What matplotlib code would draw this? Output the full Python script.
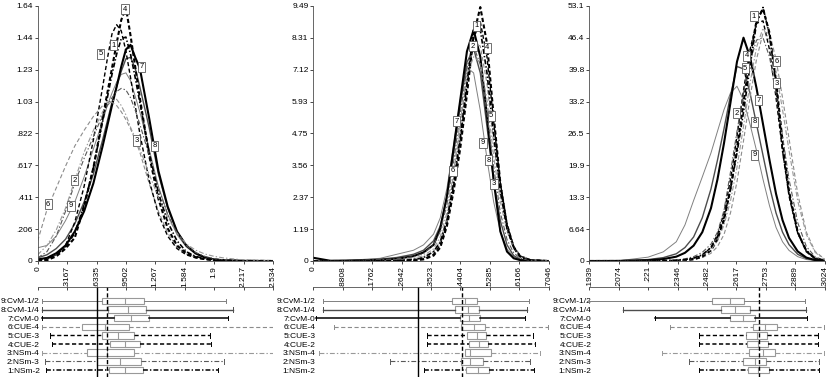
import matplotlib
matplotlib.use("Agg")
import matplotlib.pyplot as plt
from matplotlib.patches import Rectangle
import numpy as np

plt.rcParams['font.family'] = ['Liberation Sans', 'DejaVu Sans']
plt.rcParams['lines.scale_dashes'] = False

# Metodos (fila 1 abajo, fila 9 arriba en los boxplots)
metodos = ["1:NSm-2", "2:NSm-3", "3:NSm-4", "4:CUE-2", "5:CUE-3",
           "6:CUE-4", "7:CvM-0", "8:CvM-1/4", "9:CvM-1/2"]

# ---------------- Panel 1 ----------------
p1_x = [0, .1, .2, .3, .4, .5, .6, .7, .75, .8, .85, .9, .95, 1.0, 1.05, 1.1,
        1.2, 1.3, 1.4, 1.5, 1.6, 1.7, 1.8, 1.9, 2.0, 2.2, 2.534]
p1_dens = [
    [.005, .015, .04, .09, .18, .36, .60, .90, 1.05, 1.20, 1.33, 1.43, 1.44, 1.33, 1.18, 1.02, .70, .44, .25, .13, .06, .03, .015, .007, .003, .001, 0],
    [.02, .06, .16, .32, .50, .66, .80, .94, 1.0, 1.05, 1.09, 1.11, 1.10, 1.05, .97, .88, .68, .47, .30, .18, .10, .055, .03, .015, .008, .003, 0],
    [.04, .10, .20, .34, .52, .70, .84, .96, 1.0, 1.03, 1.04, 1.0, .94, .86, .79, .72, .56, .41, .28, .18, .11, .07, .045, .03, .02, .008, .002],
    [0, .005, .03, .08, .15, .35, .60, .92, 1.08, 1.24, 1.40, 1.55, 1.63, 1.45, 1.25, 1.05, .68, .40, .21, .10, .05, .025, .012, .006, .003, .001, 0],
    [0, .01, .04, .10, .25, .48, .78, 1.12, 1.30, 1.46, 1.52, 1.48, 1.35, 1.18, 1.0, .82, .52, .30, .16, .08, .04, .02, .01, .005, .002, .001, 0],
    [.13, .33, .47, .61, .74, .84, .93, 1.0, 1.02, 1.02, 1.0, .96, .91, .85, .78, .70, .50, .32, .18, .09, .045, .025, .015, .01, .007, .004, .001],
    [.01, .02, .05, .10, .19, .32, .50, .74, .87, 1.0, 1.12, 1.25, 1.36, 1.39, 1.31, 1.24, .92, .58, .35, .19, .10, .05, .022, .01, .005, .001, 0],
    [.02, .04, .08, .14, .24, .38, .56, .78, .90, 1.02, 1.12, 1.22, 1.30, 1.31, 1.24, 1.12, .86, .56, .34, .19, .10, .05, .025, .012, .006, .002, 0],
    [.085, .10, .16, .26, .38, .54, .72, .90, 1.0, 1.08, 1.15, 1.20, 1.21, 1.16, 1.06, .96, .72, .48, .30, .17, .09, .045, .022, .011, .005, .002, 0],
]
p1_lab_x = [0.816, 0.394, 1.063, 0.94, 0.676, 0.113, 1.116, 1.256, 0.359]
p1_lab_y = [1.388, 0.52, 0.775, 1.618, 1.334, 0.366, 1.248, 0.742, 0.355]
p1_whislo = [0.09, 0.08, 0.047, 0.155, 0.13, 0.047, 0.047, 0.047, 0.047]
p1_q1 = [0.765, 0.64, 0.53, 0.775, 0.69, 0.476, 0.82, 0.754, 0.696]
p1_med = [0.94, 0.885, 0.75, 0.94, 0.86, 0.72, 1.01, 0.975, 0.935]
p1_q3 = [1.13, 1.115, 1.035, 1.10, 1.035, 0.98, 1.20, 1.17, 1.14]
p1_whishi = [1.94, 2.01, 2.534, 1.87, 1.86, 2.534, 2.05, 2.10, 2.03]
p1_ref_solida = 0.642
p1_ref_discont = 0.75
p1_xtl = ["0", ".3167", ".6335", ".9502", "1.267", "1.584", "1.9", "2.217", "2.534"]
p1_ytl = ["0", ".206", ".411", ".617", ".822", "1.03", "1.23", "1.44", "1.64"]

# ---------------- Panel 2 ----------------
p2_x = [0, .05, .1, .15, .2, .25, .3, .33, .36, .38, .40, .42, .44, .46, .48, .50,
        .52, .54, .56, .58, .60, .62, .65, .7046]
p2_dens = [
    [0, 0, 0, 0, .01, .02, .05, .12, .35, .7, 1.5, 2.9, 4.6, 6.6, 8.6, 8.6, 7.0, 4.7, 2.6, 1.2, .5, .17, .04, 0],
    [0, 0, .01, .02, .04, .08, .16, .28, .6, 1.1, 2.1, 3.7, 5.5, 7.2, 8.0, 7.3, 5.5, 3.5, 1.8, .8, .3, .1, .02, 0],
    [0, 0, .01, .02, .03, .05, .1, .2, .45, .9, 1.8, 3.3, 5.2, 6.9, 7.6, 7.4, 6.0, 3.9, 2.2, 1.1, .5, .2, .05, 0],
    [0, 0, 0, 0, 0, 0, .02, .06, .2, .5, 1.3, 2.6, 4.2, 6.2, 8.4, 9.45, 8.1, 5.4, 2.9, 1.3, .5, .15, .03, 0],
    [0, 0, 0, 0, 0, .01, .03, .08, .25, .6, 1.4, 2.8, 4.5, 6.5, 8.3, 8.9, 7.6, 5.2, 2.9, 1.4, .55, .18, .04, 0],
    [0, 0, 0, .01, .02, .04, .08, .15, .35, .75, 1.6, 3.2, 5.0, 6.9, 8.1, 8.0, 6.6, 4.4, 2.5, 1.2, .5, .2, .05, 0],
    [.12, .01, .01, .02, .04, .08, .18, .32, .6, 1.2, 2.4, 4.2, 6.0, 7.8, 8.6, 7.6, 5.4, 3.0, 1.1, .35, .1, .03, .01, 0],
    [0, .01, .02, .04, .07, .13, .25, .4, .75, 1.3, 2.4, 4.0, 5.8, 7.4, 7.9, 7.0, 5.0, 3.0, 1.5, .6, .2, .06, .01, 0],
    [0, .01, .03, .06, .1, .25, .4, .6, 1.0, 1.6, 2.7, 4.3, 6.0, 7.2, 7.0, 5.6, 3.8, 2.2, 1.1, .45, .15, .05, .01, 0],
]
p2_lab_x = [0.488, 0.478, 0.541, 0.521, 0.533, 0.418, 0.428, 0.525, 0.508]
p2_lab_y = [8.75, 8.0, 2.88, 7.94, 5.40, 3.35, 5.21, 3.75, 4.40]
p2_whislo = [0.330, 0.229, 0.018, 0.339, 0.339, 0.062, 0.007, 0.030, 0.030]
p2_q1 = [0.458, 0.443, 0.455, 0.466, 0.460, 0.443, 0.438, 0.425, 0.415]
p2_med = [0.493, 0.470, 0.470, 0.495, 0.490, 0.480, 0.466, 0.463, 0.455]
p2_q3 = [0.525, 0.508, 0.533, 0.5225, 0.518, 0.513, 0.499, 0.496, 0.490]
p2_whishi = [0.662, 0.649, 0.679, 0.665, 0.659, 0.702, 0.635, 0.639, 0.645]
p2_ref_solida = 0.3135
p2_ref_discont = 0.445
p2_xtl = ["0", ".08808", ".1762", ".2642", ".3523", ".4404", ".5285", ".6166", ".7046"]
p2_ytl = ["0", "1.19", "2.37", "3.56", "4.75", "5.93", "7.12", "8.31", "9.49"]

# ---------------- Panel 3 ----------------
p3_x = [.1939, .2074, .221, .228, .234, .238, .242, .246, .25, .253, .256, .259,
        .262, .265, .268, .271, .274, .277, .28, .283, .286, .29, .294, .298, .3024]
p3_dens = [
    [0, 0, .02, .05, .15, .3, .6, 1.3, 2.8, 5.0, 9.0, 15.0, 22.5, 31.0, 40.5, 49.5, 52.8, 47.0, 37.0, 23.0, 14.0, 6.0, 2.2, .6, .1],
    [0, 0, .02, .08, .2, .45, .9, 1.8, 3.5, 6.0, 10.5, 18.5, 27.0, 35.0, 41.5, 46.0, 46.5, 42.5, 35.0, 26.0, 17.0, 8.0, 3.0, .9, .1],
    [0, 0, .01, .04, .1, .25, .55, 1.2, 2.4, 4.2, 7.5, 12.5, 19.5, 28.0, 37.0, 44.5, 48.5, 46.0, 39.5, 31.5, 23.0, 12.5, 5.5, 1.8, .3],
    [0, 0, 0, .02, .05, .15, .35, .9, 2.2, 4.5, 8.5, 15.0, 23.5, 33.0, 42.5, 50.0, 52.5, 47.5, 37.5, 25.0, 14.5, 6.0, 2.0, .5, .05],
    [0, 0, .01, .03, .1, .25, .55, 1.2, 2.8, 5.5, 10.0, 17.0, 26.0, 35.5, 44.0, 49.5, 50.0, 44.0, 34.0, 23.0, 13.5, 5.8, 2.0, .5, .05],
    [0, 0, 0, .02, .05, .12, .3, .7, 1.6, 3.0, 5.5, 10.0, 16.5, 25.0, 34.0, 42.0, 47.5, 47.5, 42.0, 34.0, 25.5, 14.0, 6.0, 2.0, .4],
    [0, .02, .15, .4, .9, 1.7, 3.2, 6.0, 11.0, 17.0, 24.5, 33.0, 41.5, 46.5, 42.5, 36.0, 28.5, 21.0, 14.0, 8.5, 4.8, 2.0, .7, .2, 0],
    [0, .05, .3, .7, 1.5, 2.8, 5.0, 9.0, 15.0, 21.0, 27.5, 34.5, 40.5, 40.0, 35.0, 28.5, 22.0, 15.5, 10.0, 6.0, 3.4, 1.4, .5, .15, 0],
    [0, .05, .8, 1.9, 4.0, 7.5, 12.6, 17.5, 22.5, 27.0, 31.5, 35.0, 36.4, 33.5, 28.5, 23.0, 17.0, 11.5, 7.0, 4.0, 2.2, .9, .3, .1, 0],
]
p3_lab_x = [0.2698, 0.2619, 0.2803, 0.2665, 0.2658, 0.2803, 0.2719, 0.2701, 0.2701]
p3_lab_y = [51.0, 30.8, 37.0, 42.7, 40.1, 41.6, 33.5, 29.0, 22.1]
p3_whislo = [0.2445, 0.2399, 0.2272, 0.2445, 0.2445, 0.2310, 0.2244, 0.2093, 0.1939]
p3_q1 = [0.2670, 0.2647, 0.2675, 0.2667, 0.2663, 0.2693, 0.2586, 0.2544, 0.2505]
p3_med = [0.2716, 0.2704, 0.2739, 0.2716, 0.2713, 0.2747, 0.2647, 0.2613, 0.2586]
p3_q3 = [0.2767, 0.2754, 0.2793, 0.2762, 0.2759, 0.2803, 0.2701, 0.2678, 0.2652]
p3_whishi = [0.3000, 0.3000, 0.3019, 0.2992, 0.2992, 0.3019, 0.2943, 0.2938, 0.2934]
p3_ref_solida = None
p3_ref_discont = 0.2721
p3_xtl = [".1939", ".2074", ".221", ".2346", ".2482", ".2617", ".2753", ".2889", ".3024"]
p3_ytl = ["0", "6.64", "13.3", "19.9", "26.5", "33.2", "39.8", "46.4", "53.1"]

# estilos por metodo: color, tipo de linea, grosor
DISC = (0, (3.0, 1.8))
PUNTO = (0, (3.5, 1.5, 1.0, 1.5))
estilos = [
    ('k', PUNTO, 1.2), ('0.35', PUNTO, 0.8), ('0.6', PUNTO, 0.8),
    ('k', DISC, 1.5), ('k', DISC, 1.0), ('0.55', DISC, 0.8),
    ('k', '-', 1.5), ('0.3', '-', 1.0), ('0.5', '-', 0.7),
]

FS = 6


def dibujar_panel(fig, izq, x, dens, lab_x, lab_y, whislo, q1, med, q3, whishi,
                  ref_sol, ref_disc, xtl, ytl):
    ancho = 0.2835
    xmin, xmax = x[0], x[-1]
    ax = fig.add_axes([izq, 0.3077, ancho, 0.6764])
    for i in range(8, -1, -1):
        c, ls, lw = estilos[i]
        ax.plot(x, dens[i], color=c, linestyle=ls, linewidth=lw)
        ax.text(lab_x[i], lab_y[i], str(i + 1), fontsize=5.5, ha='center', va='center',
                zorder=5, bbox=dict(boxstyle='square,pad=0.2', fc='w', ec='0.35', lw=0.6))
    ax.set_xlim(xmin, xmax)
    ytop = float(ytl[-1])
    ax.set_ylim(0, ytop)
    ax.set_xticks(np.linspace(xmin, xmax, 9), xtl, rotation=90)
    ax.set_yticks(np.linspace(0, ytop, 9), ytl)
    ax.tick_params(direction='out', length=2, width=0.5, labelsize=FS, pad=1.5)
    for s in ['top', 'right']:
        ax.spines[s].set_visible(False)
    for s in ['left', 'bottom']:
        ax.spines[s].set_linewidth(0.6)
        ax.spines[s].set_color('0.3')

    # boxplots
    bx = fig.add_axes([izq, 0.0, ancho, 0.2387])
    for i in range(9):
        c, ls, lw = estilos[i]
        y = i + 1
        lwb = min(lw, 1.1)
        bx.plot([whislo[i], q1[i]], [y, y], color=c, linestyle=ls, linewidth=lwb)
        bx.plot([q3[i], whishi[i]], [y, y], color=c, linestyle=ls, linewidth=lwb)
        bx.plot([whislo[i], whislo[i]], [y - 0.25, y + 0.25], color=c, linewidth=0.7)
        bx.plot([whishi[i], whishi[i]], [y - 0.25, y + 0.25], color=c, linewidth=0.7)
        bx.add_patch(Rectangle((q1[i], y - 0.38), q3[i] - q1[i], 0.76,
                               fill=False, ec='0.6', lw=0.8))
        bx.plot([med[i], med[i]], [y - 0.38, y + 0.38], color='0.6', linewidth=0.8)
    if ref_sol is not None:
        bx.axvline(ref_sol, color='k', linewidth=1.0)
    bx.axvline(ref_disc, color='k', linewidth=1.0, linestyle=DISC)
    bx.set_xlim(xmin, xmax)
    bx.set_ylim(0.2, 10.6)
    bx.set_xticks(np.linspace(xmin, xmax, 9))
    bx.tick_params(axis='x', top=True, bottom=False, direction='in', length=2.5,
                   width=0.5, labeltop=False, labelbottom=False)
    bx.set_yticks(range(1, 10), metodos)
    bx.tick_params(axis='y', length=0, pad=-1.5, labelsize=FS)
    for s in ['left', 'right', 'bottom']:
        bx.spines[s].set_visible(False)
    bx.spines['top'].set_linewidth(0.6)
    bx.spines['top'].set_color('0.3')


fig = plt.figure(figsize=(8.3, 3.77), dpi=100)
dibujar_panel(fig, 0.0454, p1_x, p1_dens, p1_lab_x, p1_lab_y, p1_whislo, p1_q1, p1_med,
              p1_q3, p1_whishi, p1_ref_solida, p1_ref_discont, p1_xtl, p1_ytl)
dibujar_panel(fig, 0.3775, p2_x, p2_dens, p2_lab_x, p2_lab_y, p2_whislo, p2_q1, p2_med,
              p2_q3, p2_whishi, p2_ref_solida, p2_ref_discont, p2_xtl, p2_ytl)
dibujar_panel(fig, 0.7100, p3_x, p3_dens, p3_lab_x, p3_lab_y, p3_whislo, p3_q1, p3_med,
              p3_q3, p3_whishi, p3_ref_solida, p3_ref_discont, p3_xtl, p3_ytl)
fig.savefig('out.png', dpi=100)
